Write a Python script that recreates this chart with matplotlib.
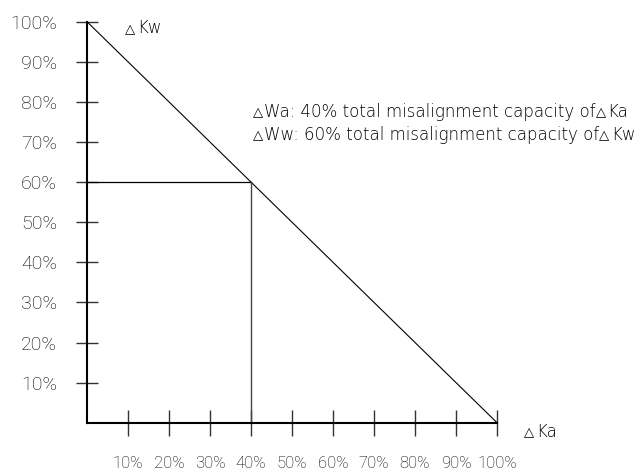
import matplotlib
matplotlib.use("Agg")
import matplotlib.pyplot as plt

# ---- data ----
pct_ticks = [10, 20, 30, 40, 50, 60, 70, 80, 90, 100]
pct_labels = ["10%", "20%", "30%", "40%", "50%", "60%", "70%", "80%", "90%", "100%"]
ka_line = [0, 100]      # ΔKa share (%)
kw_line = [100, 0]      # ΔKw share (%)
wa_pct = 40             # ΔWa: 40% of ΔKa
ww_pct = 60             # ΔWw: 60% of ΔKw
note_lines = [
    ("Wa: 40% total misalignment capacity of", "Ka"),
    ("Ww: 60% total misalignment capacity of", "Kw"),
]
tri = "\u25b3"

W, H = 639, 475
plt.rcParams["font.family"] = ["Roboto", "DejaVu Sans"]

fig = plt.figure(figsize=(W / 100, H / 100), dpi=100)
ax = fig.add_axes([87 / W, (H - 422.7) / H, 410 / W, 401 / H])
ax.set_xlim(0, 100)
ax.set_ylim(0, 100)
ax.patch.set_alpha(0)

for s in ("top", "right"):
    ax.spines[s].set_visible(False)
for s in ("left", "bottom"):
    ax.spines[s].set_linewidth(1.5)
    ax.spines[s].set_color("black")

ax.set_xticks(pct_ticks)
ax.set_xticklabels(pct_labels, fontsize=12, fontweight="light")
ax.set_yticks(pct_ticks)
ax.set_yticklabels(pct_labels, fontsize=14, fontweight="light")
ax.tick_params(axis="x", direction="inout", length=19, width=1.0, color="#333333", pad=14.5)
ax.tick_params(axis="y", direction="inout", length=16, width=1.0, color="#333333", pad=13.5)

ax.plot(ka_line, kw_line, color="black", lw=0.8, solid_capstyle="butt", clip_on=False)
ax.plot([0, wa_pct], [ww_pct, ww_pct], color="black", lw=0.9, clip_on=False)
ax.plot([wa_pct, wa_pct], [0, ww_pct], color="#444444", lw=1.0, clip_on=False)

fig.canvas.draw()
renderer = fig.canvas.get_renderer()

tri_props = dict(fontsize=9.5, family=["DejaVu Sans"], color="black")
txt_props = dict(fontsize=12, family=["DejaVu Sans"], fontweight="light", color="black")


def chain(x, y, segs):
    for s, props, gap in segs:
        t = fig.text(x / W, y / H, s, ha="left", va="baseline", **props)
        bb = t.get_window_extent(renderer)
        x = bb.x1 + gap


# axis names
chain(125, H - 33.3, [(tri, tri_props, 2), ("Kw", txt_props, 0)])
chain(524, H - 436.7, [(tri, tri_props, 2), ("Ka", txt_props, 0)])

# notes
for i, (a, b) in enumerate(note_lines):
    y = H - (116.7 + i * 22.8)
    chain(253, y, [(tri, tri_props, 1), (a, txt_props, 0), (tri, tri_props, 1), (b, txt_props, 0)])

fig.savefig("out.png", dpi=100)
